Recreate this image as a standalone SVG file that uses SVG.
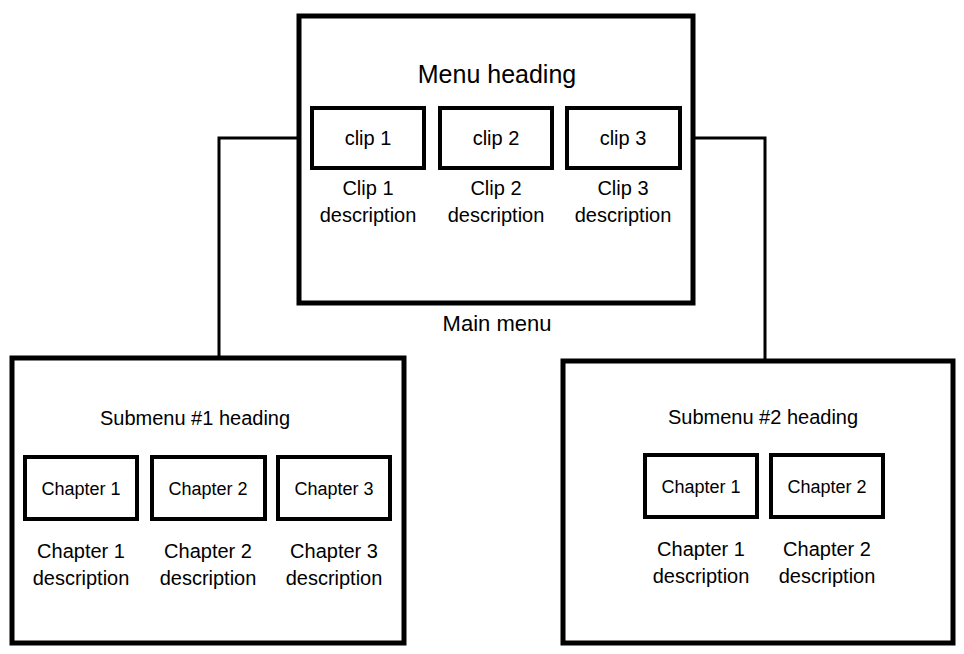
<svg xmlns="http://www.w3.org/2000/svg" width="964" height="654" viewBox="0 0 964 654">
<style>
.big{fill:#fff;stroke:#000;stroke-width:5}
.sm{fill:#fff;stroke:#000;stroke-width:4}
text{font-family:"Liberation Sans",Arial,sans-serif;fill:#000;text-anchor:middle}
.h{font-size:25px}.c{font-size:20px}.d{font-size:20px}.ch{font-size:18px}.m{font-size:22px}
</style>
<rect width="964" height="654" fill="#fff"/>
<g id="connectors" fill="none" stroke="#000" stroke-width="3">
<polyline points="312,138 219,138 219,358"/>
<polyline points="680,138 765,138 765,361"/>
</g>
<g id="main">
<rect class="big" x="299" y="16" width="394" height="287"/>
<text class="h" x="497" y="83">Menu heading</text>
<text class="m" x="497" y="331">Main menu</text>
</g>
<g id="clip1"><rect class="sm" x="312" y="108" width="112" height="60"/><text class="c" x="368" y="145">clip 1</text><text class="d" x="368" y="195">Clip 1</text><text class="d" x="368" y="222">description</text></g>
<g id="clip2"><rect class="sm" x="440" y="108" width="112" height="60"/><text class="c" x="496" y="145">clip 2</text><text class="d" x="496" y="195">Clip 2</text><text class="d" x="496" y="222">description</text></g>
<g id="clip3"><rect class="sm" x="567" y="108" width="113" height="60"/><text class="c" x="623" y="145">clip 3</text><text class="d" x="623" y="195">Clip 3</text><text class="d" x="623" y="222">description</text></g>
<g id="sub1">
<rect class="big" x="12" y="358" width="392" height="285"/>
<text class="c" x="195" y="425">Submenu #1 heading</text>
</g>
<g id="s1c1"><rect class="sm" x="25" y="457" width="112" height="62"/><text class="ch" x="81" y="495">Chapter 1</text><text class="d" x="81" y="558">Chapter 1</text><text class="d" x="81" y="585">description</text></g>
<g id="s1c2"><rect class="sm" x="152" y="457" width="113" height="62"/><text class="ch" x="208" y="495">Chapter 2</text><text class="d" x="208" y="558">Chapter 2</text><text class="d" x="208" y="585">description</text></g>
<g id="s1c3"><rect class="sm" x="278" y="457" width="112" height="62"/><text class="ch" x="334" y="495">Chapter 3</text><text class="d" x="334" y="558">Chapter 3</text><text class="d" x="334" y="585">description</text></g>
<g id="sub2">
<rect class="big" x="563" y="361" width="390" height="282"/>
<text class="c" x="763" y="424">Submenu #2 heading</text>
</g>
<g id="s2c1"><rect class="sm" x="645" y="455" width="112" height="62"/><text class="ch" x="701" y="493">Chapter 1</text><text class="d" x="701" y="556">Chapter 1</text><text class="d" x="701" y="583">description</text></g>
<g id="s2c2"><rect class="sm" x="771" y="455" width="112" height="62"/><text class="ch" x="827" y="493">Chapter 2</text><text class="d" x="827" y="556">Chapter 2</text><text class="d" x="827" y="583">description</text></g>
</svg>
